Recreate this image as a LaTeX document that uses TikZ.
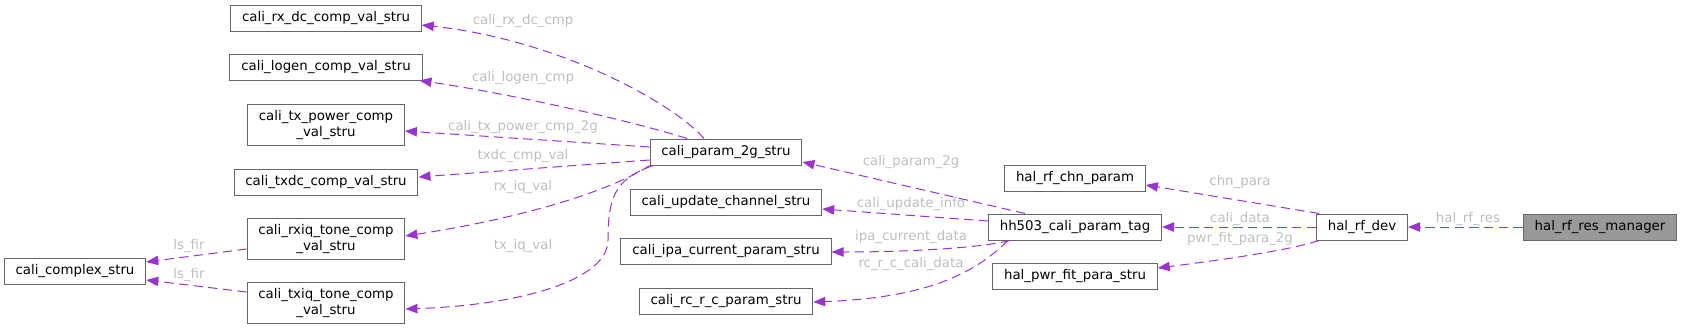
\documentclass[tikz,border=0pt]{standalone}
\usepackage{fontspec}
\setmainfont{DejaVu Sans}
\usepackage{xcolor}
\usepackage{tikz}
\usetikzlibrary{arrows.meta,calc}
\definecolor{edgeOrchid}{HTML}{9A32CD}
\definecolor{boxBorder}{HTML}{666666}
\definecolor{rootFill}{HTML}{999999}
\definecolor{labelGrey}{HTML}{BEBEBE}

\begin{document}
\begin{tikzpicture}[x=0.75pt,y=-0.75pt,font=\fontsize{10pt}{12pt}\selectfont,
  structbox/.style={draw=boxBorder,line width=0.75pt,fill=white,minimum height=19.5pt,inner xsep=8.5pt,inner ysep=2pt},
  twoline/.style={structbox,align=center,minimum height=30.75pt},
  rootbox/.style={structbox,fill=rootFill},
  usage/.style={draw=edgeOrchid,line width=0.75pt,dash pattern=on 7pt off 4pt,-{Triangle[length=9pt,width=7pt]}},
  lbl/.style={text=labelGrey,inner sep=1pt}]
\useasboundingbox (0,0) rectangle (1681,329);
% coordinates are pixels of the doxygen graph, y grows downwards
\node[structbox] (rxdc)  at (326,18)  {cali\_rx\_dc\_comp\_val\_stru};
\node[structbox] (logen) at (326,67)  {cali\_logen\_comp\_val\_stru};
\node[twoline]   (txpw)  at (326,125) {cali\_tx\_power\_comp\\\_val\_stru};
\node[structbox] (txdc)  at (326,182) {cali\_txdc\_comp\_val\_stru};
\node[twoline]   (rxiq)  at (326,239) {cali\_rxiq\_tone\_comp\\\_val\_stru};
\node[twoline]   (txiq)  at (326,303) {cali\_txiq\_tone\_comp\\\_val\_stru};
\node[structbox] (cplx)  at (75,271)  {cali\_complex\_stru};
\node[structbox] (pm)    at (726,152) {cali\_param\_2g\_stru};
\node[structbox] (upd)   at (726,202) {cali\_update\_channel\_stru};
\node[structbox] (ipa)   at (726,251) {cali\_ipa\_current\_param\_stru};
\node[structbox] (rc)    at (726,301) {cali\_rc\_r\_c\_param\_stru};
\node[structbox] (chn)   at (1075,178) {hal\_rf\_chn\_param};
\node[structbox] (hh)    at (1075,227) {hh503\_cali\_param\_tag};
\node[structbox] (pwr)   at (1075,276) {hal\_pwr\_fit\_para\_stru};
\node[structbox] (dev)   at (1362,227) {hal\_rf\_dev};
\node[rootbox]   (mgr)   at (1600,227) {hal\_rf\_res\_manager};
\coordinate (txiqBend) at (608,240);

\draw[usage] ($(pm.north)+(-22,0)$) .. controls +(-29,-34) and +(139,15) .. ($(rxdc.east)+(0,7)$);
\draw[usage] ($(pm.north)+(-39,0)$) .. controls +(-67,-21) and +(82,12) .. ($(logen.south east)+(-3,0)$);
\draw[usage] ($(pm.west)+(0,-5)$) -- ($(txpw.east)+(0,6)$);
\draw[usage] ($(pm.west)+(0,8)$) -- ($(txdc.east)+(0,-5)$);
\draw[usage] (pm.south west) .. controls +(-30,20) and +(136,-21) .. ($(rxiq.east)+(0,-3)$);
\draw[usage] ($(pm.south west)+(4,0)$) .. controls +(-40,13) and +(0,-40) .. (txiqBend)
  .. controls +(0,40) and +(116,-4) .. ($(txiq.east)+(0,6)$);
\draw[usage] ($(rxiq.west)+(0,10)$) -- ($(cplx.east)+(0,-9)$);
\draw[usage] ($(txiq.west)+(0,-11)$) -- ($(cplx.east)+(0,9)$);
\draw[usage] ($(hh.north)+(-50,0)$) -- ($(pm.east)+(0,10)$);
\draw[usage] ($(hh.west)+(0,-6)$) -- ($(upd.east)+(0,7)$);
\draw[usage] ($(hh.south west)+(22,0)$) .. controls +(-32,8) and +(71,0) .. ($(ipa.east)+(0,1)$);
\draw[usage] ($(hh.south west)+(20,0)$) .. controls +(-35,35) and +(109,-4) .. ($(rc.east)+(0,1)$);
\draw[usage] ($(dev.north west)+(3,0)$) -- ($(chn.east)+(0,7)$);
\draw[usage] (dev.west) -- (hh.east);
\draw[usage] ($(dev.south west)+(3,0)$) .. controls +(-30,10) and +(63,-8) .. ($(pwr.east)+(0,-8)$);
\draw[usage] (mgr.west) -- (dev.east);

\node[lbl] (lRxdc)  at (523,21)  {cali\_rx\_dc\_cmp};
\node[lbl] (lLogen) at (523,78)  {cali\_logen\_cmp};
\node[lbl] (lTxpw)  at (523,127) {cali\_tx\_power\_cmp\_2g};
\node[lbl] (lTxdc)  at (523,156) {txdc\_cmp\_val};
\node[lbl] (lRxiq)  at (523,187) {rx\_iq\_val};
\node[lbl] (lTxiq)  at (523,246) {tx\_iq\_val};
\node[lbl] (lFirA)  at (189,246) {ls\_fir};
\node[lbl] (lFirB)  at (189,275) {ls\_fir};
\node[lbl] (lPm)    at (911,162) {cali\_param\_2g};
\node[lbl] (lUpd)   at (911,204) {cali\_update\_info};
\node[lbl] (lIpa)   at (911,237) {ipa\_current\_data};
\node[lbl] (lRc)    at (911,264) {rc\_r\_c\_cali\_data};
\node[lbl] (lChn)   at (1240,182) {chn\_para};
\node[lbl] (lData)  at (1240,219) {cali\_data};
\node[lbl] (lPwr)   at (1240,239) {pwr\_fit\_para\_2g};
\node[lbl] (lRes)   at (1468,219) {hal\_rf\_res};
\end{tikzpicture}
\end{document}
